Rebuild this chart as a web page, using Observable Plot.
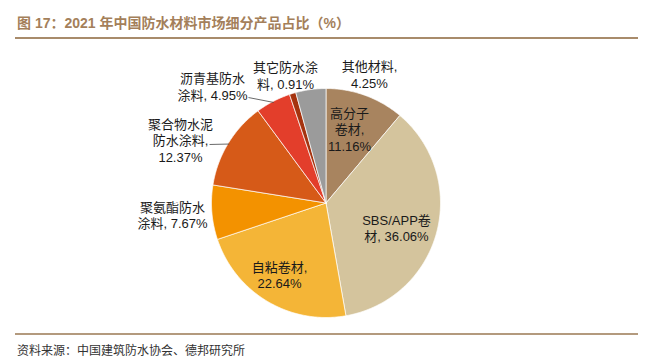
<!DOCTYPE html>
<html>
<head>
<meta charset="utf-8">
<script src="https://cdn.jsdelivr.net/npm/d3@7"></script>
<script src="https://cdn.jsdelivr.net/npm/@observablehq/plot@0.6"></script>
<style>
  html, body { margin: 0; padding: 0; background: #fff; }
  #wrap { position: relative; width: 645px; height: 361px; overflow: hidden; font-family: "Liberation Sans", "Noto Sans CJK SC", sans-serif; }
  #title { position: absolute; left: 17px; top: 15px; font-size: 14px; line-height: 16px; font-weight: bold; color: #A47F5A; white-space: nowrap; }
  .rule { position: absolute; left: 15px; width: 623px; height: 2px; background: #A88B6B; }
  #footer { position: absolute; left: 17px; top: 344px; font-size: 12px; line-height: 14px; color: #333; white-space: nowrap; }
  #chart { position: absolute; left: 0; top: 0; }
</style>
</head>
<body>
<div id="wrap">
  <div id="chart"></div>
  <div id="title">图 17：2021 年中国防水材料市场细分产品占比（%）</div>
  <div class="rule" style="top:37px"></div>
  <div class="rule" style="top:333px; height:2px; background:#B39A7E"></div>
  <div id="footer">资料来源：中国建筑防水协会、德邦研究所</div>
</div>
<script>
// ---- data ----
const names = ["高分子卷材", "SBS/APP卷材", "自粘卷材", "聚氨酯防水涂料", "聚合物水泥防水涂料", "沥青基防水涂料", "其它防水涂料", "其他材料"];
const shares = [11.16, 36.06, 22.64, 7.67, 12.37, 4.95, 0.91, 4.25];
const labelTemplates = ["高分子\n卷材,\n{v}", "SBS/APP卷\n材, {v}", "自粘卷材,\n{v}", "聚氨酯防水\n涂料, {v}", "聚合物水泥\n防水涂料,\n{v}", "沥青基防水\n涂料, {v}", "其它防水涂\n料, {v}", "其他材料,\n{v}"];
const colors = ["#A8845F", "#D4C49D", "#F4B537", "#F39200", "#D65A18", "#E33E2B", "#A5330F", "#9B9B9B"];

// ---- label layout (polar: degrees clockwise from top, radius in pie radii) ----
const labelAngle = [17.6, 109.2, 213.0, 265.7, 293.4, 315.9, 342.4, 18.6];
const labelRadius = [0.678, 0.652, 0.745, 1.344, 1.385, 1.424, 1.17, 1.19];
// leader lines: index of slice and start point (unit coords)
const leaderIndex = [5, 4];
const leaderStart = [[-0.677, 0.921], [-1.017, 0.511]];

// ---- build ----
const arcs = d3.pie().sort(null).startAngle(0).endAngle(2 * Math.PI)(shares);
const pts = [];
arcs.forEach((a, i) => {
  pts.push({name: names[i], x: 0, y: 0});
  const n = Math.max(2, Math.ceil((a.endAngle - a.startAngle) / (Math.PI / 360)));
  for (let k = 0; k <= n; k++) {
    const t = a.startAngle + (a.endAngle - a.startAngle) * k / n;
    pts.push({name: names[i], x: Math.sin(t), y: Math.cos(t)});
  }
  pts.push({name: names[i], x: 0, y: 0});
});

const labels = names.map((n, i) => {
  const t = labelAngle[i] * Math.PI / 180;
  return {
    name: n,
    text: labelTemplates[i].replace("{v}", shares[i].toFixed(2) + "%"),
    x: labelRadius[i] * Math.sin(t),
    y: labelRadius[i] * Math.cos(t)
  };
});

const leaders = leaderIndex.map((idx, j) => {
  const a = arcs[idx];
  const m = (a.startAngle + a.endAngle) / 2;
  return {x1: leaderStart[j][0], y1: leaderStart[j][1], x2: 0.99 * Math.sin(m), y2: 0.99 * Math.cos(m)};
});

const chart = Plot.plot({
  width: 645,
  height: 361,
  margin: 0,
  x: {domain: [-1, 1], range: [211, 440], axis: null},
  y: {domain: [-1, 1], range: [317, 88], axis: null},
  color: {domain: names, range: colors},
  style: {background: "transparent"},
  marks: [
    Plot.line(pts, {x: "x", y: "y", z: "name", fill: "name", stroke: "white", strokeWidth: 0.7, curve: "linear"}),
    Plot.link(leaders, {x1: "x1", y1: "y1", x2: "x2", y2: "y2", stroke: "#444", strokeWidth: 0.8}),
    Plot.text(labels, {x: "x", y: "y", text: "text", fontSize: 13, lineHeight: 1.3, fill: "#1a1a1a",
      fontFamily: "'Liberation Sans', 'Noto Sans CJK SC', sans-serif"})
  ]
});
document.getElementById("chart").appendChild(chart);
</script>
</body>
</html>
